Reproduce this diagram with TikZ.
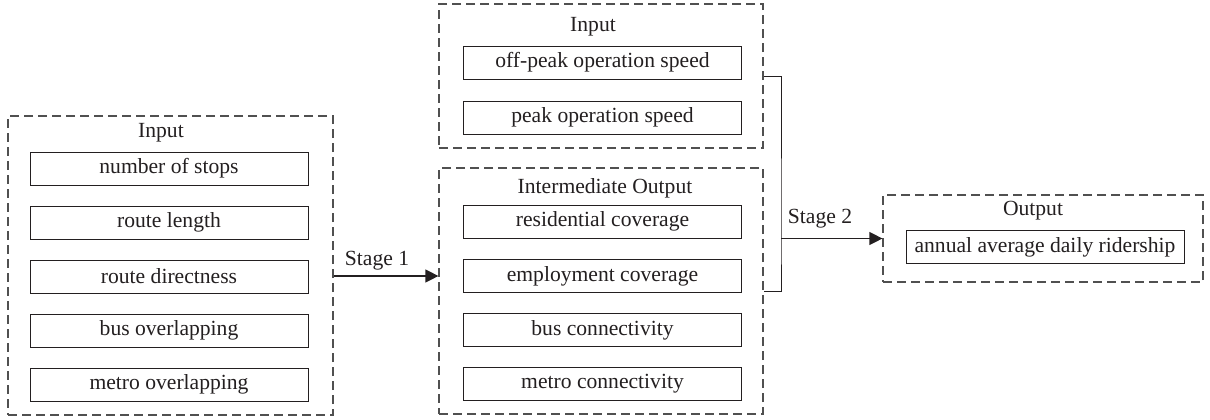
\documentclass[tikz,border=0pt]{standalone}
\usepackage{fontspec}
\setmainfont{Liberation Serif}
\usetikzlibrary{arrows.meta,positioning,calc}
\definecolor{FcInk}{RGB}{35,31,32}
\definecolor{FcDash}{RGB}{80,80,80}
\tikzset{
  fc/group/.style={
    draw=FcDash,
    line width=0.6pt,
    dash pattern=on 4.5pt off 2.5pt,
    fill=none,
    inner sep=0pt
  },
  fc/item/.style={
    draw=FcInk,
    line width=0.5pt,
    fill=white,
    align=center,
    text=FcInk,
    minimum width=139pt,
    minimum height=16.5pt,
    inner sep=0pt,
    font=\fontsize{10.8}{12}\selectfont
  },
  fc/title/.style={font=\fontsize{10.8}{12}\selectfont, text=FcInk, align=center},
  fc/arrow/.style={-{Triangle[length=6.5pt,width=6.5pt]}, line width=0.6pt, draw=FcInk},
  fc/line/.style={line width=0.5pt, draw=FcInk}
}

\begin{document}
\begin{tikzpicture}[x=0.5pt,y=-0.5pt]
  \useasboundingbox (0,0) rectangle (1210,419);

  % stage 1 inputs
  \node[fc/group,minimum width=162.5pt,minimum height=149.5pt] (inL) at (170.5,265.5) {};
  \node[fc/title] (inLtitle) at (161,133) {Input};
  \node[fc/item] (stops) at (169,168.5) {number of stops};
  \node[fc/item] (rlen) at (169,222.5) {route length};
  \node[fc/item] (rdir) at (169,276.5) {route directness};
  \node[fc/item] (busov) at (169,330.5) {bus overlapping};
  \node[fc/item] (metov) at (169,384.5) {metro overlapping};

  % stage 2 extra inputs
  \node[fc/group,minimum width=162pt,minimum height=72pt] (inT) at (601,76) {};
  \node[fc/title] (inTtitle) at (593,27) {Input};
  \node[fc/item] (offpk) at (602.5,62.5) {off-peak operation speed};
  \node[fc/item] (pk) at (602.5,117.5) {peak operation speed};

  % intermediate output
  \node[fc/group,minimum width=162pt,minimum height=123pt] (inter) at (601,291) {};
  \node[fc/title] (intertitle) at (605,188) {Intermediate Output};
  \node[fc/item] (rescov) at (602.5,221.5) {residential coverage};
  \node[fc/item] (empcov) at (602.5,276) {employment coverage};
  \node[fc/item] (busconn) at (602.5,330) {bus connectivity};
  \node[fc/item] (metconn) at (602.5,384) {metro connectivity};

  % final output
  \node[fc/group,minimum width=160pt,minimum height=43.5pt] (outp) at (1043,238.5) {};
  \node[fc/title] (outtitle) at (1033,211) {Output};
  \node[fc/item] (aadr) at (1045,247) {annual average daily ridership};

  % connectors
  \draw[fc/arrow] (inL.east |- empcov) -- (inter.west |- empcov);
  \node[fc/title] (st1) at (377,261) {Stage 1};

  \coordinate (join) at (781,238.5);
  \draw[fc/line] (inT.east) -| (join) |- (inter.east);
  \draw[fc/arrow] (join) -- (outp.west);
  \node[fc/title] (st2) at (820,219) {Stage 2};
\end{tikzpicture}
\end{document}
